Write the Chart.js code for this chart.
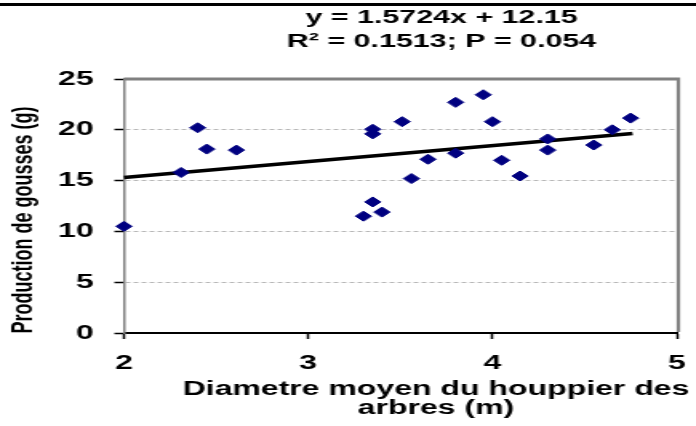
<!DOCTYPE html>
<html>
<head>
<meta charset="utf-8">
<script src="https://cdn.jsdelivr.net/npm/chart.js@4.4.0/dist/chart.umd.min.js"></script>
<style>
  body { margin: 0; background: #fff; }
  /* drawn at a narrow size and stretched sideways to the wide look */
  #mycanvas { display: block; width: 696px; height: 426px; }
</style>
</head>
<body>
<canvas id="mycanvas" width="435" height="426" style="width:696px;height:426px"></canvas>
<script>
// diametre moyen du houppier (m) et production de gousses (g)
var diam = [2.00, 2.31, 2.40, 2.45, 2.61, 3.35, 3.35, 3.35, 3.30, 3.40, 3.51, 3.56,
            3.65, 3.80, 3.80, 3.95, 4.00, 4.05, 4.15, 4.30, 4.30, 4.55, 4.65, 4.75];
var prod = [10.5, 15.8, 20.2, 18.1, 18.0, 20.05, 19.6, 12.9, 11.5, 11.9, 20.8, 15.2,
            17.1, 22.7, 17.7, 23.45, 20.8, 17.0, 15.45, 19.1, 18.0, 18.5, 20.0, 21.15];

// droite de regression
var fitSlope = [1.5724];
var fitIntercept = [12.15];
var fitStats = ["0.1513", "0.054"];
var trendX = [2, 4.76];

var xTicks = [2, 3, 4, 5];
var yTicks = [0, 5, 10, 15, 20, 25];

var points = [];
for (var i in diam) {
	points.push({x: diam[i], y: prod[i]});
}
var trend = [];
for (var j in trendX) {
	trend.push({x: trendX[j], y: fitSlope[0] * trendX[j] + fitIntercept[0]});
}

var textFont = 'bold 20px "Liberation Sans", Arial, sans-serif';

var decor = {
	id: 'decor',
	afterDraw: function(chart) {
		var ctx = chart.ctx;
		var a = chart.chartArea;
		ctx.save();
		// black rule across the top
		ctx.fillStyle = '#000';
		ctx.fillRect(0, 3, chart.width, 3);

		// gray frame on top and right of the plot
		ctx.strokeStyle = '#808080';
		ctx.lineWidth = 3;
		ctx.beginPath();
		ctx.moveTo(a.left, a.top);
		ctx.lineTo(a.right, a.top);
		ctx.stroke();
		ctx.lineWidth = 2.2;
		ctx.beginPath();
		ctx.moveTo(a.right + 1, a.top - 1.5);
		ctx.lineTo(a.right + 1, a.bottom - 1);
		ctx.stroke();

		ctx.fillStyle = '#000';
		ctx.textAlign = 'center';
		ctx.textBaseline = 'middle';

		// equation
		ctx.font = 'bold 19px "Liberation Sans", Arial, sans-serif';
		ctx.fillText('y = ' + fitSlope[0] + 'x + ' + fitIntercept[0], 276, 18);
		ctx.fillText('R\u00B2 = ' + fitStats[0] + '; P = ' + fitStats[1], 276, 42);

		// x axis title
		ctx.font = textFont;
		ctx.fillText('Diametre moyen du houppier des', 272.5, 389);
		ctx.fillText('arbres (m)', 272.5, 408);

		// y axis title
		ctx.font = 'bold 18px "Liberation Sans", Arial, sans-serif';
		ctx.translate(15, 220);
		ctx.rotate(-Math.PI / 2);
		ctx.fillText('Production de gousses (g)', 0, 0);
		ctx.restore();
	}
};

var ctx = document.getElementById('mycanvas');

var chart = new Chart(ctx, {
	type: 'scatter',
	data: {
		datasets: [
			{
				label: 'Production',
				data: points,
				pointStyle: 'rectRot',
				pointRadius: 5,
				pointHoverRadius: 5,
				backgroundColor: '#000080',
				borderColor: '#000080',
				borderWidth: 1,
				clip: false
			},
			{
				type: 'line',
				label: 'Tendance',
				data: trend,
				borderColor: '#000',
				borderWidth: 3.5,
				pointRadius: 0,
				fill: false,
				clip: false
			}
		]
	},
	options: {
		responsive: false,
		animation: false,
		layout: { padding: { top: 79, right: 12, bottom: 0, left: 0 } },
		plugins: {
			legend: { display: false },
			tooltip: { enabled: false }
		},
		scales: {
			x: {
				type: 'linear',
				min: xTicks[0],
				max: xTicks[xTicks.length - 1],
				afterBuildTicks: function(scale) {
					scale.ticks = xTicks.map(function(v) { return {value: v}; });
				},
				afterFit: function(scale) {
					scale.height = 93;
					// the "5" label may overhang, keep the axis on the plot edge
					scale.paddingLeft = 0;
					scale.paddingRight = 0;
				},
				ticks: {
					color: '#000',
					font: { family: '"Liberation Sans", Arial, sans-serif', size: 20, weight: 'bold' },
					padding: 12,
					maxRotation: 0
				},
				grid: {
					drawOnChartArea: false,
					drawTicks: true,
					tickLength: 6,
					tickColor: '#000',
					tickWidth: 1.5
				},
				border: { color: '#000', width: 2 }
			},
			y: {
				min: yTicks[0],
				max: yTicks[yTicks.length - 1],
				afterBuildTicks: function(scale) {
					scale.ticks = yTicks.map(function(v) { return {value: v}; });
				},
				afterFit: function(scale) { scale.width = 77.5; },
				ticks: {
					color: '#000',
					font: { family: '"Liberation Sans", Arial, sans-serif', size: 20, weight: 'bold' },
					padding: 13
				},
				grid: {
					color: function(c) {
						if (c.tick && (c.tick.value === 0 || c.tick.value === 25)) return 'rgba(0,0,0,0)';
						return '#b8b8b8';
					},
					lineWidth: 1,
					tickLength: 6,
					tickColor: '#000',
					tickWidth: 1.5
				},
				border: { color: '#808080', width: 1.5, dash: [3, 2] }
			}
		}
	},
	plugins: [decor]
});
</script>
</body>
</html>
